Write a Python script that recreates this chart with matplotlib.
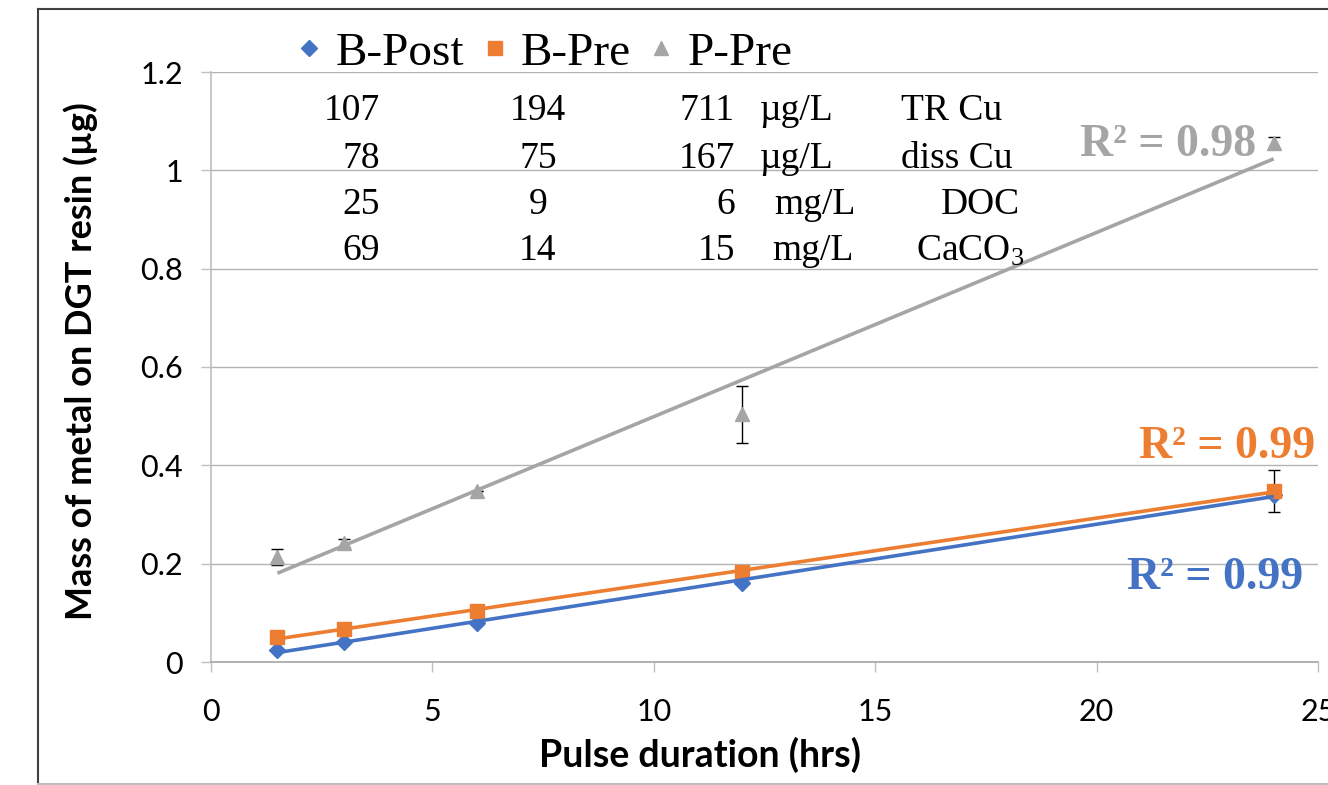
import matplotlib
matplotlib.use("Agg")
import matplotlib.pyplot as plt
from matplotlib.lines import Line2D
import numpy as np

# pulse duration (hrs)
hours = [1.5, 3, 6, 12, 24]

b_post = [0.024, 0.041, 0.080, 0.161, 0.340]
b_pre = [0.051, 0.067, 0.104, 0.183, 0.348]
p_pre = [0.214, 0.242, 0.348, 0.504, 1.056]

b_post_err = [0, 0, 0, 0, 0]
b_pre_err = [0, 0, 0, 0, 0.043]
p_pre_err = [0.016, 0.008, 0, 0.058, 0.012]

r2_labels = ["R\u00b2 = 0.99", "R\u00b2 = 0.99", "R\u00b2 = 0.98"]

# water chemistry table (B-Post, B-Pre, P-Pre, unit, parameter)
tab_bpost = ["107", "78", "25", "69"]
tab_bpre = ["194", "75", "9", "14"]
tab_ppre = ["711", "167", "6", "15"]
tab_units = ["\u00b5g/L", "\u00b5g/L", "mg/L", "mg/L"]
tab_params = ["TR Cu", "diss Cu", "DOC", "CaCO$_3$"]

names = ["B-Post", "B-Pre", "P-Pre"]
colors = ["#4472C4", "#ED7D31", "#A5A5A5"]
markers = ["D", "s", "^"]
msizes = [8, 10, 10]

plt.rcParams["mathtext.fontset"] = "custom"
plt.rcParams["mathtext.rm"] = "Liberation Serif"
plt.rcParams["mathtext.it"] = "Liberation Serif:italic"

W, H = 1328, 785
fig = plt.figure(figsize=(W / 100, H / 100), dpi=100)


def px(x, y):
    return x / W, 1 - y / H


ax = fig.add_axes([211 / W, 1 - 662 / H, (1318 - 211) / W, (662 - 72) / H])

series = [b_post, b_pre, p_pre]
errs = [b_post_err, b_pre_err, p_pre_err]
x = np.array(hours)

for ys, es, c, m, ms in zip(series, errs, colors, markers, msizes):
    ax.errorbar(x, ys, yerr=es, fmt="none", ecolor="black", elinewidth=1,
                capsize=4, capthick=1, zorder=3)
    ax.plot(x, ys, linestyle="none", marker=m, color=c, markersize=ms, zorder=4)

for ys, c in zip(series, colors):
    k, b = np.polyfit(x, ys, 1)
    xs = np.array([x[0], x[-1]])
    ax.plot(xs, k * xs + b, color=c, lw=2.6, zorder=5, solid_capstyle="butt")

# R² labels
rkw = dict(ha="right", va="center", fontsize=33, fontweight="bold",
           family="Liberation Serif")
ax.text(24.66, 0.171, r2_labels[0], color=colors[0], **rkw)
ax.text(24.93, 0.437, r2_labels[1], color=colors[1], **rkw)
ax.text(23.6, 1.051, r2_labels[2], color=colors[2], **rkw)

ax.set_xlim(0, 25)
ax.set_ylim(0, 1.2)
ax.set_xticks([0, 5, 10, 15, 20, 25])
ax.set_yticks([0, 0.2, 0.4, 0.6, 0.8, 1.0, 1.2])
ax.set_yticklabels(["0", "0.2", "0.4", "0.6", "0.8", "1", "1.2"])
ax.grid(axis="y", color="#B3B3B3", lw=1)
ax.set_axisbelow(True)
for s in ["top", "right"]:
    ax.spines[s].set_visible(False)
ax.spines["left"].set_color("#BFBFBF")
ax.spines["bottom"].set_color("#A6A6A6")
ax.spines["left"].set_linewidth(1.2)
ax.spines["bottom"].set_linewidth(1.2)
ax.tick_params(axis="both", length=7, width=1, color="#BFBFBF",
               labelsize=22)
ax.tick_params(axis="y", pad=13)
ax.tick_params(axis="x", pad=19)
for lab in ax.get_xticklabels() + ax.get_yticklabels():
    lab.set_family("Lato")

ax.set_xlabel("Pulse duration (hrs)", fontsize=27, fontweight="bold",
              family="Lato")
ax.set_ylabel("Mass of metal on DGT resin (\u00b5g)", fontsize=26,
              fontweight="bold", family="Lato")
ax.xaxis.set_label_coords((700 - 211) / 1107, -(755 - 662) / 590)
ax.yaxis.set_label_coords(-(211 - 81) / 1107, (662 - 361) / 590)
ax.xaxis.label.set_va("center")
ax.yaxis.label.set_va("center")

# legend
handles = [Line2D([], [], linestyle="none", marker=m, color=c, markersize=s)
           for m, c, s in zip(markers, colors, [8, 10, 10])]
fig.legend(handles, names, loc="center", bbox_to_anchor=px(545, 53), ncol=3,
           frameon=False, prop={"family": "Liberation Serif", "size": 34},
           handlelength=0.5, handletextpad=0.3, columnspacing=0.4)

# water chemistry text block
row_y = [111, 159, 205, 251]
unit_x = [760, 760, 774, 772]
param_x = [1002, 1013, 1020, 1024]
tkw = dict(fontsize=27, family="Liberation Serif", va="center")
for i in range(4):
    fig.text(*px(380, row_y[i]), tab_bpost[i], ha="right", **tkw)
    fig.text(*px(538, row_y[i]), tab_bpre[i], ha="center", **tkw)
    fig.text(*px(735, row_y[i]), tab_ppre[i], ha="right", **tkw)
    fig.text(*px(unit_x[i], row_y[i]), tab_units[i], ha="left", **tkw)
    fig.text(*px(param_x[i], row_y[i]), tab_params[i], ha="right", **tkw)

# chart area border (cropped)
fig.add_artist(Line2D([38 / W, 38 / W], [0, 1 - 9 / H], color="#404040", lw=1.5))
fig.add_artist(Line2D([38 / W, 1], [1 - 9 / H, 1 - 9 / H], color="#404040", lw=1.5))
fig.add_artist(Line2D([38 / W, 1], [1 - 784 / H, 1 - 784 / H], color="#BFBFBF", lw=1.5))

fig.savefig("out.png", dpi=100)
